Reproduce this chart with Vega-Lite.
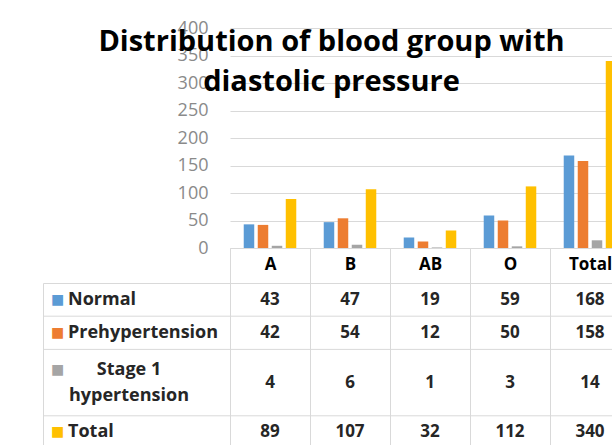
{
  "$schema": "https://vega.github.io/schema/vega-lite/v6.json",
  "padding": {"left": 42, "top": 19, "right": 0, "bottom": 0},
  "title": {
    "text": ["Distribution of blood group with", "diastolic pressure"],
    "anchor": "middle",
    "font": "Open Sans",
    "fontSize": 29,
    "fontWeight": "bold",
    "lineHeight": 40,
    "color": "#000000",
    "offset": -78,
    "dx": -5
  },
  "datasets": {
    "counts": [
      {"group": "A", "series": "Normal", "value": 43},
      {"group": "A", "series": "Prehypertension", "value": 42},
      {"group": "A", "series": "Stage 1 hypertension", "value": 4},
      {"group": "A", "series": "Total", "value": 89},
      {"group": "B", "series": "Normal", "value": 47},
      {"group": "B", "series": "Prehypertension", "value": 54},
      {"group": "B", "series": "Stage 1 hypertension", "value": 6},
      {"group": "B", "series": "Total", "value": 107},
      {"group": "AB", "series": "Normal", "value": 19},
      {"group": "AB", "series": "Prehypertension", "value": 12},
      {"group": "AB", "series": "Stage 1 hypertension", "value": 1},
      {"group": "AB", "series": "Total", "value": 32},
      {"group": "O", "series": "Normal", "value": 59},
      {"group": "O", "series": "Prehypertension", "value": 50},
      {"group": "O", "series": "Stage 1 hypertension", "value": 3},
      {"group": "O", "series": "Total", "value": 112},
      {"group": "Total", "series": "Normal", "value": 168},
      {"group": "Total", "series": "Prehypertension", "value": 158},
      {"group": "Total", "series": "Stage 1 hypertension", "value": 14},
      {"group": "Total", "series": "Total", "value": 340}
    ],
    "keys": [
      {"series": "Normal", "label": "Normal"},
      {"series": "Prehypertension", "label": "Prehypertension"},
      {"series": "Stage 1 hypertension", "label": ["Stage 1", "hypertension"]},
      {"series": "Total", "label": "Total"}
    ],
    "lines": [
      {"row": "Prehypertension"},
      {"row": "Stage 1 hypertension (top)"},
      {"row": "Total"}
    ]
  },
  "columns": 2,
  "bounds": "flush",
  "spacing": {"row": 35, "column": 0},
  "concat": [
    {
      "width": 187,
      "height": 220,
      "view": {"stroke": null},
      "data": {"values": []},
      "mark": {"type": "text"},
      "encoding": {}
    },
    {
      "width": 400,
      "height": 220,
      "view": {"stroke": null},
      "data": {"name": "counts"},
      "mark": {"type": "bar"},
      "encoding": {
        "x": {
          "field": "group",
          "type": "nominal",
          "sort": ["A", "B", "AB", "O", "Total"],
          "scale": {"paddingInner": 0, "paddingOuter": 0},
          "axis": {
            "title": null,
            "labelAngle": 0,
            "labelFont": "Open Sans",
            "labelFontWeight": "bold",
            "labelFontSize": 17,
            "labelColor": "#000000",
            "labelPadding": -27,
            "tickBand": "extent",
            "tickSize": 35,
            "tickColor": "#d9d9d9",
            "domainColor": "#d9d9d9"
          }
        },
        "xOffset": {
          "field": "series",
          "type": "nominal",
          "sort": ["Normal", "Prehypertension", "Stage 1 hypertension", "Total"],
          "scale": {"paddingInner": 0.25, "paddingOuter": 0.98}
        },
        "y": {
          "field": "value",
          "type": "quantitative",
          "scale": {"domain": [0, 400]},
          "axis": {
            "title": null,
            "values": [0, 50, 100, 150, 200, 250, 300, 350, 400],
            "grid": true,
            "gridColor": "#d9d9d9",
            "domain": false,
            "ticks": false,
            "labelPadding": 22,
            "labelFont": "Open Sans",
            "labelFontSize": 18,
            "labelColor": "#8a8a8a"
          }
        },
        "color": {
          "field": "series",
          "type": "nominal",
          "scale": {
            "domain": ["Normal", "Prehypertension", "Stage 1 hypertension", "Total"],
            "range": ["#5b9bd5", "#ed7d31", "#a5a5a5", "#ffc000"]
          },
          "legend": null
        }
      }
    },
    {
      "width": 187,
      "height": 166,
      "view": {"stroke": "#d9d9d9"},
      "data": {"name": "keys"},
      "encoding": {
        "x": {"datum": 0, "type": "quantitative", "scale": {"domain": [0, 1]}, "axis": null}
      },
      "layer": [
        {
          "data": {"name": "lines"},
          "mark": {"type": "rule", "color": "#d9d9d9"},
          "encoding": {
            "x": null,
            "y": {"field": "row", "type": "nominal", "bandPosition": 0,
              "scale": {"domain": ["Normal", "Prehypertension", "Stage 1 hypertension (top)", "Stage 1 hypertension", "Total"], "paddingInner": 0, "paddingOuter": 0},
              "axis": null}
          }
        },
        {
          "transform": [{"filter": "datum.series !== 'Stage 1 hypertension'"}],
          "mark": {"type": "text", "text": "■", "align": "left", "baseline": "middle", "dx": 8, "fontSize": 14, "font": "DejaVu Sans"},
          "encoding": {
            "y": {"field": "series", "type": "nominal", "axis": null},
            "color": {"field": "series", "type": "nominal",
              "scale": {"domain": ["Normal", "Prehypertension", "Stage 1 hypertension", "Total"], "range": ["#5b9bd5", "#ed7d31", "#a5a5a5", "#ffc000"]},
              "legend": null}
          }
        },
        {
          "transform": [{"filter": "datum.series === 'Stage 1 hypertension'"}],
          "mark": {"type": "text", "text": "■", "align": "left", "baseline": "middle", "dx": 8, "dy": -13, "fontSize": 14, "font": "DejaVu Sans"},
          "encoding": {
            "y": {"field": "series", "type": "nominal", "bandPosition": 0, "axis": null},
            "color": {"field": "series", "type": "nominal", "legend": null}
          }
        },
        {
          "transform": [{"filter": "datum.series !== 'Stage 1 hypertension'"}],
          "mark": {"type": "text", "align": "left", "baseline": "middle", "dx": 25, "font": "Open Sans", "fontSize": 18, "fontWeight": "bold", "color": "#262626"},
          "encoding": {
            "y": {"field": "series", "type": "nominal", "axis": null},
            "text": {"field": "label", "type": "nominal"}
          }
        },
        {
          "transform": [{"filter": "datum.series === 'Stage 1 hypertension'"}],
          "mark": {"type": "text", "align": "center", "baseline": "middle", "dx": 86, "dy": -13, "lineHeight": 26, "font": "Open Sans", "fontSize": 18, "fontWeight": "bold", "color": "#262626"},
          "encoding": {
            "y": {"field": "series", "type": "nominal", "bandPosition": 0, "axis": null},
            "text": {"field": "label", "type": "nominal"}
          }
        }
      ]
    },
    {
      "width": 400,
      "height": 166,
      "view": {"stroke": "#d9d9d9"},
      "data": {"name": "counts"},
      "layer": [
        {
          "data": {"name": "lines"},
          "mark": {"type": "rule", "color": "#d9d9d9"},
          "encoding": {
            "y": {"field": "row", "type": "nominal", "bandPosition": 0,
              "scale": {"domain": ["Normal", "Prehypertension", "Stage 1 hypertension (top)", "Stage 1 hypertension", "Total"], "paddingInner": 0, "paddingOuter": 0},
              "axis": null}
          }
        },
        {
          "transform": [{"filter": "datum.series !== 'Stage 1 hypertension'"}],
          "mark": {"type": "text", "align": "center", "baseline": "middle", "font": "Open Sans", "fontSize": 17, "fontWeight": "bold", "color": "#262626"},
          "encoding": {
            "x": {"field": "group", "type": "nominal", "sort": ["A", "B", "AB", "O", "Total"],
              "scale": {"paddingInner": 0, "paddingOuter": 0},
              "axis": {"orient": "top", "title": null, "labels": false, "ticks": false, "domain": false, "grid": true, "tickBand": "extent", "gridColor": "#d9d9d9"}},
            "y": {"field": "series", "type": "nominal", "axis": null},
            "text": {"field": "value", "type": "quantitative"}
          }
        },
        {
          "transform": [{"filter": "datum.series === 'Stage 1 hypertension'"}],
          "mark": {"type": "text", "align": "center", "baseline": "middle", "font": "Open Sans", "fontSize": 17, "fontWeight": "bold", "color": "#262626"},
          "encoding": {
            "x": {"field": "group", "type": "nominal", "sort": ["A", "B", "AB", "O", "Total"]},
            "y": {"field": "series", "type": "nominal", "bandPosition": 0, "axis": null},
            "text": {"field": "value", "type": "quantitative"}
          }
        }
      ]
    }
  ]
}
